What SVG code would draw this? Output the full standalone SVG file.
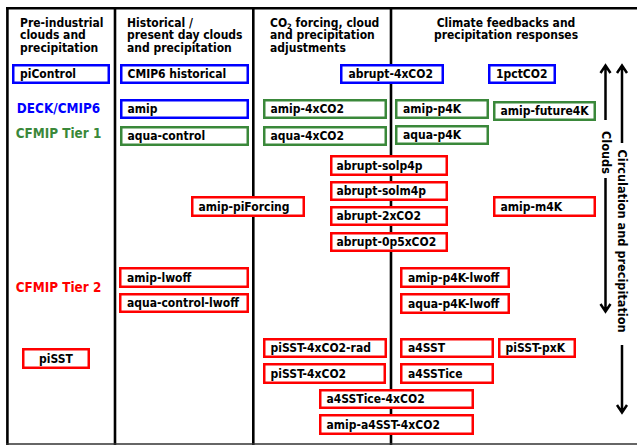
<svg xmlns="http://www.w3.org/2000/svg" width="637" height="445" viewBox="0 0 637 445">
<style>
text{font-family:"DejaVu Sans Condensed","DejaVu Sans",sans-serif;font-weight:bold;font-stretch:condensed;font-size:12px;fill:#000}
.b{fill:#fff;stroke:#0000ff;stroke-width:2.5}
.g{fill:#fff;stroke:#3a883a;stroke-width:2.5}
.r{fill:#fff;stroke:#ff0000;stroke-width:2.5}
.frame{stroke:#000;stroke-width:2.6;fill:none}
.arr{stroke:#000;stroke-width:2.5;fill:none}
.lb{fill:#0000ff}.lg{fill:#3a883a}.lr{fill:#ff0000}
.row{font-size:13.4px}
.ax{font-size:12.6px}
</style>
<rect width="637" height="445" fill="#fff"/>
<g id="frame">
<line class="frame" x1="6" y1="8.3" x2="637" y2="8.3"/>
<line class="frame" x1="7.4" y1="7" x2="7.4" y2="445"/>
<line class="frame" x1="115" y1="7" x2="115" y2="445"/>
<line class="frame" x1="253.3" y1="7" x2="253.3" y2="445"/>
<line class="frame" x1="391" y1="7" x2="391" y2="445"/>
<line x1="6" y1="444" x2="637" y2="444" stroke="#333" stroke-width="1.6"/>
</g>
<g id="headers">
<text x="20" y="26.7">Pre-industrial</text>
<text x="20" y="39.4">clouds and</text>
<text x="20" y="52.1">precipitation</text>
<text x="127" y="26.7">Historical /</text>
<text x="127" y="39.4">present day clouds</text>
<text x="127" y="52.1">and precipitation</text>
<text x="270" y="26.7">CO<tspan font-size="7.5" dy="2.5">2</tspan><tspan dy="-2.5"> forcing, cloud</tspan></text>
<text x="270" y="39.4">and precipitation</text>
<text x="270" y="52.1">adjustments</text>
<text x="506" y="26.7" text-anchor="middle">Climate feedbacks and</text>
<text x="506" y="39.4" text-anchor="middle">precipitation responses</text>
</g>
<g id="row-labels">
<text class="lb row" x="58.5" y="112.6" text-anchor="middle">DECK/CMIP6</text>
<text class="lg row" x="58.5" y="138.3" text-anchor="middle">CFMIP Tier 1</text>
<text class="lr row" x="58.5" y="291.7" text-anchor="middle">CFMIP Tier 2</text>
</g>
<g id="connectors">
<path class="arr" d="M605.5 120V66M600.5 73L605.5 65.5L610.5 73"/>
<path class="arr" d="M605.5 178V311M600.5 304L605.5 311.5L610.5 304"/>
<path class="arr" d="M622 143V66M617 73L622 65.5L627 73"/>
<path class="arr" d="M622 345V412M617 405L622 412.5L627 405"/>
</g>
<g id="axis-labels">
<text class="ax" x="0" y="0" text-anchor="middle" transform="translate(601.5 152.5) rotate(90)">Clouds</text>
<text class="ax" x="0" y="0" text-anchor="middle" transform="translate(618 241) rotate(90)">Circulation and precipitation</text>
</g>
<g id="piControl"><rect class="b" x="13.25" y="65.25" width="95.5" height="17.5"/><text x="20" y="78">piControl</text></g>
<g id="CMIP6-historical"><rect class="b" x="121.25" y="65.25" width="126.5" height="17.5"/><text x="127.5" y="78">CMIP6 historical</text></g>
<g id="abrupt-4xCO2"><rect class="b" x="341.25" y="65.25" width="101.5" height="17.5"/><text x="348.5" y="78">abrupt-4xCO2</text></g>
<g id="1pctCO2"><rect class="b" x="489.25" y="65.25" width="65.5" height="17.5"/><text x="496" y="78">1pctCO2</text></g>
<g id="amip"><rect class="b" x="121.25" y="100.25" width="126.5" height="17.5"/><text x="127.5" y="113">amip</text></g>
<g id="amip-4xCO2"><rect class="g" x="264.25" y="100.25" width="121.5" height="17.5"/><text x="270.5" y="113">amip-4xCO2</text></g>
<g id="amip-p4K"><rect class="g" x="396.25" y="100.25" width="91.5" height="17.5"/><text x="403" y="113">amip-p4K</text></g>
<g id="amip-future4K"><rect class="g" x="494.25" y="102.25" width="100.5" height="17.5"/><text x="500.5" y="115">amip-future4K</text></g>
<g id="aqua-control"><rect class="g" x="121.25" y="127.25" width="126.5" height="17.5"/><text x="127.5" y="140">aqua-control</text></g>
<g id="aqua-4xCO2"><rect class="g" x="264.25" y="127.25" width="121.5" height="17.5"/><text x="270.5" y="140">aqua-4xCO2</text></g>
<g id="aqua-p4K"><rect class="g" x="396.25" y="126.25" width="91.5" height="17.5"/><text x="403" y="139">aqua-p4K</text></g>
<g id="abrupt-solp4p"><rect class="r" x="331.25" y="156.25" width="115.5" height="18.5"/><text x="336.5" y="169.5">abrupt-solp4p</text></g>
<g id="abrupt-solm4p"><rect class="r" x="331.25" y="182.25" width="115.5" height="17.5"/><text x="336.5" y="195">abrupt-solm4p</text></g>
<g id="abrupt-2xCO2"><rect class="r" x="331.25" y="207.25" width="115.5" height="17.5"/><text x="336.5" y="220">abrupt-2xCO2</text></g>
<g id="abrupt-0p5xCO2"><rect class="r" x="331.25" y="233.25" width="115.5" height="17.5"/><text x="336.5" y="246">abrupt-0p5xCO2</text></g>
<g id="amip-piForcing"><rect class="r" x="192.25" y="197.25" width="111.5" height="18.5"/><text x="198.5" y="210.5">amip-piForcing</text></g>
<g id="amip-m4K"><rect class="r" x="494.25" y="197.25" width="100.5" height="18.5"/><text x="500.5" y="210.5">amip-m4K</text></g>
<g id="amip-lwoff"><rect class="r" x="120.25" y="268.25" width="127.5" height="18.5"/><text x="127" y="281.5">amip-lwoff</text></g>
<g id="aqua-control-lwoff"><rect class="r" x="120.25" y="294.25" width="127.5" height="17.5"/><text x="127" y="307">aqua-control-lwoff</text></g>
<g id="amip-p4K-lwoff"><rect class="r" x="401.25" y="268.25" width="107.5" height="18.5"/><text x="408" y="281.5">amip-p4K-lwoff</text></g>
<g id="aqua-p4K-lwoff"><rect class="r" x="401.25" y="294.25" width="107.5" height="18.5"/><text x="408" y="307.5">aqua-p4K-lwoff</text></g>
<g id="piSST"><rect class="r" x="23.25" y="349.25" width="65.5" height="18.5"/><text x="56" y="362.5" text-anchor="middle">piSST</text></g>
<g id="piSST-4xCO2-rad"><rect class="r" x="264.25" y="339.25" width="121.5" height="17.5"/><text x="270.5" y="352">piSST-4xCO2-rad</text></g>
<g id="piSST-4xCO2"><rect class="r" x="264.25" y="364.25" width="120.5" height="18.5"/><text x="270.5" y="377.5">piSST-4xCO2</text></g>
<g id="a4SST"><rect class="r" x="401.25" y="339.25" width="91.5" height="17.5"/><text x="408" y="352">a4SST</text></g>
<g id="piSST-pxK"><rect class="r" x="499.25" y="339.25" width="75.5" height="17.5"/><text x="505.5" y="352">piSST-pxK</text></g>
<g id="a4SSTice"><rect class="r" x="401.25" y="364.25" width="91.5" height="18.5"/><text x="408" y="377.5">a4SSTice</text></g>
<g id="a4SSTice-4xCO2"><rect class="r" x="320.25" y="390.25" width="152.5" height="17.5"/><text x="326.5" y="403">a4SSTice-4xCO2</text></g>
<g id="amip-a4SST-4xCO2"><rect class="r" x="320.25" y="415.25" width="152.5" height="18.5"/><text x="326.5" y="428.5">amip-a4SST-4xCO2</text></g>
</svg>
